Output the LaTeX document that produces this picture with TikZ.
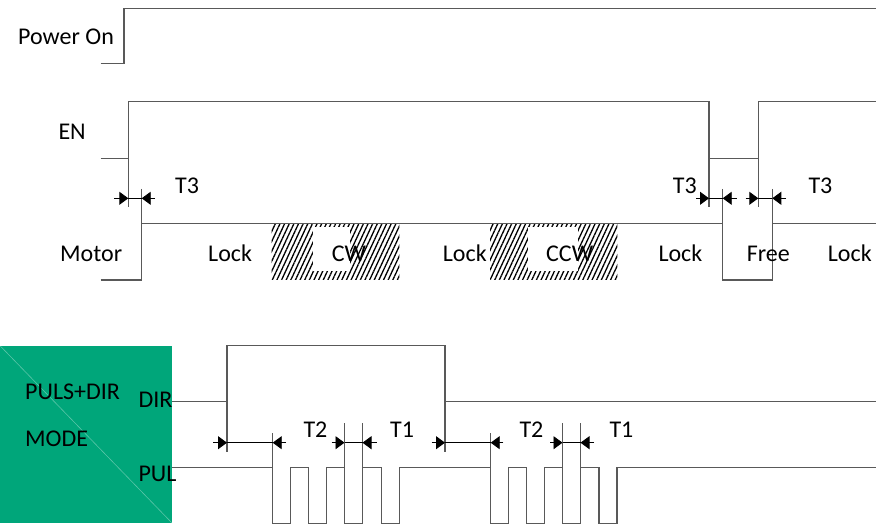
\documentclass[tikz,border=0pt]{standalone}
\usepackage{fontspec}
\setmainfont{Carlito}
\usepackage{xcolor}
\usetikzlibrary{arrows.meta, patterns.meta}
\definecolor{modegreen}{RGB}{0,166,122}

\begin{document}
\begin{tikzpicture}[
    x=1pt, y=-1pt,
    font=\fontsize{24}{28}\selectfont,
    sig/.style={line width=1.1pt, black!65},
    dimarr/.style={-{Triangle[length=9pt, width=13pt]}, line width=0.9pt, black},
    dimline/.style={line width=0.9pt, black},
    lbl/.style={anchor=base west, inner sep=0pt},
    hatch/.style={pattern={Lines[angle=65, distance=4.2pt, line width=1.3pt]}, pattern color=black},
]
\useasboundingbox (0,0) rectangle (876,526);

% Y levels (pixels, downwards)
\def\ypwr{8.3}    % power on high
\def\yenh{101.7}  % EN high
\def\yenm{158.3}  % EN low / middle
\def\ymoh{223.3}  % motor high
\def\ymol{280}    % motor low
\def\ytt{198.3}   % T3 arrows
\def\ydirh{345.7} % DIR high
\def\ydirl{401.7} % DIR low
\def\ydim{442.7}  % T1/T2 arrows
\def\yph{467.3}   % PUL high
\def\ypl{523.3}   % PUL low

% Power On
\node[lbl] (pwr) at (18,45) {Power On};
\draw[sig] (100.7,63.3) -- (124,63.3) -- (124,\ypwr) -- (876,\ypwr);

% EN
\node[lbl] (en) at (58.3,140) {EN};
\draw[sig] (100.7,\yenm) -- (128.3,\yenm) -- (128.3,\yenh) -- (709,\yenh) -- (709,\yenm)
    -- (758.3,\yenm) -- (758.3,\yenh) -- (876,\yenh);
\foreach \x in {128.3, 709, 758.3} {
    \draw[sig] (\x,\yenm) -- (\x,207.5);
}

% Motor state (hatched = running)
\fill[hatch] (271.7,\ymoh) rectangle (399.3,279.3);
\fill[white] (313,226.7) rectangle (350,270.7);
\fill[hatch] (490,\ymoh) rectangle (617.3,279.3);
\fill[white] (528,226.7) rectangle (578,270.7);
\node[lbl] (cw) at (331.7,261.7) {CW};
\node[lbl] (ccw) at (546,261.7) {CCW};

\node[lbl] (motor) at (60,261.7) {Motor};
\draw[sig] (100.7,\ymol) -- (141.7,\ymol) -- (141.7,\ymoh) -- (722.7,\ymoh) -- (722.7,\ymol)
    -- (772.3,\ymol) -- (772.3,\ymoh) -- (876,\ymoh);
\foreach \x in {141.7, 722.7, 772.3} {
    \draw[sig] (\x,189) -- (\x,\ymoh);
}
\node[lbl] (lka) at (208,261.7) {Lock};
\node[lbl] (lkb) at (442.7,261.7) {Lock};
\node[lbl] (lkc) at (658.3,261.7) {Lock};
\node[lbl] (free) at (746.7,261.7) {Free};
\node[lbl] (lkd) at (827.7,261.7) {Lock};

% T3 delays
\foreach \a/\b/\c/\d in {114/128.3/141.7/155, 696/709/722.7/736.7, 745.7/758.3/772.3/786} {
    \draw[dimarr] (\a,\ytt) -- (\b,\ytt);
    \draw[dimline] (\b,\ytt) -- (\c,\ytt);
    \draw[dimarr] (\d,\ytt) -- (\c,\ytt);
}
\node[lbl] (tta) at (175,194) {T3};
\node[lbl] (ttb) at (672.7,194) {T3};
\node[lbl] (ttc) at (808.3,194) {T3};

% Mode box
\fill[modegreen] (0,\ydirh) rectangle (172.3,\ypl);
\draw[white, opacity=0.35, line width=0.6pt] (0,\ydirh) -- (172.3,\ypl);
\node[lbl] (mode) at (25,400) {PULS+DIR};
\node[lbl] (modeb) at (25,446.7) {MODE};
\node[lbl] (dir) at (138.3,407.3) {DIR};
\node[lbl] (pul) at (138.3,481.7) {PUL};

% DIR signal
\draw[sig] (172.3,\ydirl) -- (227,\ydirl) -- (227,\ydirh) -- (445,\ydirh) -- (445,\ydirl) -- (876,\ydirl);
\foreach \x in {227, 445} {
    \draw[sig] (\x,\ydirl) -- (\x,451.7);
}

% PUL signal
\draw[sig] (172.3,\yph)
    foreach \x in {272.7, 308.7, 344.5, 381.5, 490.7, 526.7, 562.5, 599} {
        -- (\x,\yph) -- (\x,\ypl) -- (\x+18,\ypl) -- (\x+18,\yph)
    } -- (876,\yph);
\foreach \x/\t in {272.7/433.3, 344.5/423.3, 362.5/423.3, 490.7/433.3, 562.5/423.3, 580.5/423.3} {
    \draw[sig] (\x,\t) -- (\x,\yph);
}

% T2 / T1 delays
\foreach \a/\b/\c/\d in {213.3/227/272.7/286, 331.7/344.5/362.5/376.7, 431.7/445/490.7/503.3, 550/562.5/580.5/594} {
    \draw[dimarr] (\a,\ydim) -- (\b,\ydim);
    \draw[dimline] (\b,\ydim) -- (\c,\ydim);
    \draw[dimarr] (\d,\ydim) -- (\c,\ydim);
}
\node[lbl] (tba) at (303.3,437.3) {T2};
\node[lbl] (tbb) at (390,437.3) {T1};
\node[lbl] (tbc) at (519.3,437.3) {T2};
\node[lbl] (tbd) at (609.3,437.3) {T1};

\end{tikzpicture}
\end{document}
